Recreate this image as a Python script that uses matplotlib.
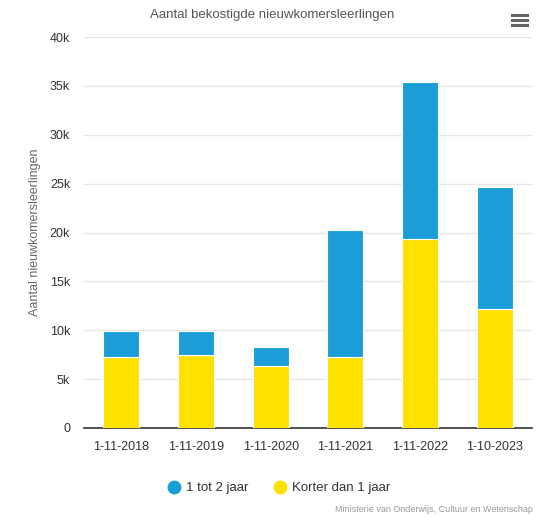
import matplotlib
matplotlib.use("Agg")
import matplotlib.pyplot as plt
from matplotlib.lines import Line2D

plt.rcParams['font.family'] = ['Liberation Sans', 'DejaVu Sans']

categories = ["1-11-2018", "1-11-2019", "1-11-2020", "1-11-2021", "1-11-2022", "1-10-2023"]
korter_dan_1_jaar = [7220, 7420, 6340, 7290, 19330, 12130]
een_tot_2_jaar = [2700, 2500, 1970, 13010, 16070, 12570]
yticks = [0, 5000, 10000, 15000, 20000, 25000, 30000, 35000, 40000]
ytick_labels = ["0", "5k", "10k", "15k", "20k", "25k", "30k", "35k", "40k"]

blue = "#1b9ed8"
yellow = "#ffe100"

fig = plt.figure(figsize=(5.51, 5.17), dpi=100)
ax = fig.add_axes([84/551, 1-428/517, (532-84)/551, (428-37)/517])

x = list(range(len(categories)))
ax.bar(x, korter_dan_1_jaar, width=0.48, color=yellow, edgecolor="white", linewidth=0.8, zorder=3)
ax.bar(x, een_tot_2_jaar, width=0.48, bottom=korter_dan_1_jaar, color=blue, edgecolor="white", linewidth=0.8, zorder=3)

ax.set_xlim(-0.5, len(categories) - 0.5)
ax.set_ylim(0, 40000)
ax.set_yticks(yticks)
ax.set_yticklabels(ytick_labels)
ax.set_xticks(x)
ax.set_xticklabels(categories)
ax.tick_params(axis='both', length=0, labelsize=9, colors="#333333")
ax.tick_params(axis='y', pad=10)
ax.tick_params(axis='x', pad=9)

ax.grid(axis='y', color="#e6e6e6", linewidth=1, zorder=0)
ax.set_axisbelow(True)
for s in ['top', 'right', 'left']:
    ax.spines[s].set_visible(False)
ax.spines['bottom'].set_color("#333333")
ax.spines['bottom'].set_linewidth(1.2)

ax.set_ylabel("Aantal nieuwkomersleerlingen", fontsize=9, color="#666666")
ax.yaxis.set_label_coords((41 - 84) / 448, 0.5)

fig.text(272/551, 1-15/517, "Aantal bekostigde nieuwkomersleerlingen", ha='center', va='center',
         fontsize=9.5, color="#555555")

# legend
handles = [Line2D([0], [0], marker='o', color='none', markerfacecolor=blue, markeredgecolor=blue, markersize=9),
           Line2D([0], [0], marker='o', color='none', markerfacecolor=yellow, markeredgecolor=yellow, markersize=9)]
fig.legend(handles, ["1 tot 2 jaar", "Korter dan 1 jaar"], loc='center', bbox_to_anchor=(278/551, 1-488/517),
           ncol=2, frameon=False, fontsize=9.5, handletextpad=0.3, columnspacing=1.8, handlelength=1.2,
           labelcolor="#333333")

fig.text(533/551, 1-510/517, "Ministerie van Onderwijs, Cultuur en Wetenschap", ha='right', va='center',
         fontsize=6.5, color="#999999")

# menu icon
for yy in [15, 20, 25]:
    fig.add_artist(Line2D([512/551, 527/551], [1-yy/517, 1-yy/517], color="#666666", linewidth=2.2,
                          transform=fig.transFigure))

fig.savefig("out.png", dpi=100)
